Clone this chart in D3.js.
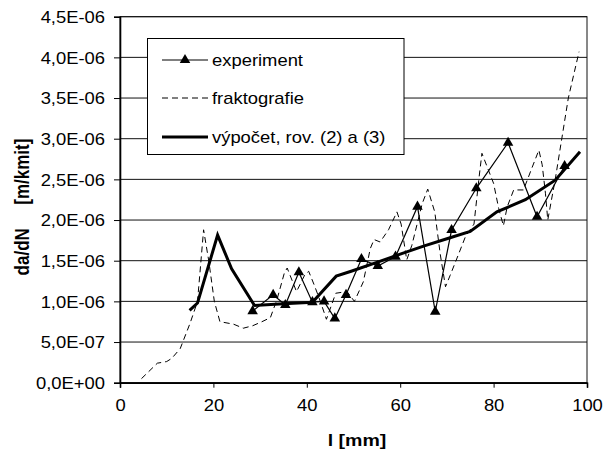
<!DOCTYPE html>
<html>
<head>
<meta charset="utf-8">
<script src="https://cdn.jsdelivr.net/npm/d3@7"></script>
<style>
  html, body { margin: 0; padding: 0; background: #fff; }
  svg { display: block; font-family: "Liberation Sans", Arial, sans-serif; }
</style>
</head>
<body>
<svg id="chart" width="604" height="459"></svg>
<script>
// Crack growth rate da/dN versus crack length l

// measured points (l in mm, da/dN in m/kmit)
const experimentL = [28.4, 32.8, 35.4, 38.3, 41.2, 43.7, 46.0, 48.4, 51.7, 55.2, 59.0, 63.7, 67.5, 71.0, 76.3, 83.1, 89.3, 95.2];
const experimentRate = [0.88e-6, 1.08e-6, 0.955e-6, 1.357e-6, 0.99e-6, 1.0e-6, 0.79e-6, 1.08e-6, 1.52e-6, 1.435e-6, 1.55e-6, 2.164e-6, 0.873e-6, 1.877e-6, 2.39e-6, 2.95e-6, 2.04e-6, 2.664e-6];

// fractographic evaluation
const fractoL = [4.6, 8.0, 10.0, 11.1, 12.9, 15.0, 16.6, 17.9, 19.0, 20.2, 21.4, 24.3, 26.4, 28.4, 30.4, 32.2, 33.6, 35.2, 35.8, 37.8, 39.6, 40.4, 41.6, 42.9, 44.2, 46.2, 48.6, 50.2, 52.1, 53.6, 54.4, 55.7, 57.5, 59.3, 60.2, 61.4, 62.5, 64.7, 65.9, 67.4, 68.6, 69.7, 70.7, 72.5, 74.0, 75.8, 76.9, 77.5, 80.0, 81.1, 82.1, 82.9, 84.3, 86.4, 88.2, 89.7, 90.4, 91.1, 91.6, 93.2, 94.6, 96.0, 98.3];
const fractoRate = [0.05e-6, 0.24e-6, 0.26e-6, 0.30e-6, 0.42e-6, 0.73e-6, 1.0e-6, 1.88e-6, 1.5e-6, 1.0e-6, 0.75e-6, 0.72e-6, 0.67e-6, 0.70e-6, 0.75e-6, 0.80e-6, 1.02e-6, 1.35e-6, 1.41e-6, 1.12e-6, 1.33e-6, 1.37e-6, 1.20e-6, 1.0e-6, 0.78e-6, 1.10e-6, 1.12e-6, 1.0e-6, 1.24e-6, 1.65e-6, 1.76e-6, 1.73e-6, 1.88e-6, 2.10e-6, 1.95e-6, 1.51e-6, 1.69e-6, 2.20e-6, 2.38e-6, 2.10e-6, 1.57e-6, 1.18e-6, 1.32e-6, 1.58e-6, 1.80e-6, 1.95e-6, 2.53e-6, 2.82e-6, 2.45e-6, 2.14e-6, 1.93e-6, 2.16e-6, 2.37e-6, 2.37e-6, 2.64e-6, 2.86e-6, 2.68e-6, 2.33e-6, 2.0e-6, 2.5e-6, 3.0e-6, 3.5e-6, 4.07e-6];

// calculation, eq. (2) and (3)
const calcL = [14.9, 16.6, 20.9, 23.9, 28.8, 35.0, 41.2, 46.3, 49.5, 55.0, 60.0, 65.0, 70.0, 75.0, 80.7, 86.8, 93.2, 98.5];
const calcRate = [0.89e-6, 0.98e-6, 1.815e-6, 1.40e-6, 0.95e-6, 0.97e-6, 0.99e-6, 1.31e-6, 1.37e-6, 1.48e-6, 1.58e-6, 1.68e-6, 1.77e-6, 1.86e-6, 2.10e-6, 2.25e-6, 2.49e-6, 2.84e-6];

const xTicks = [0, 20, 40, 60, 80, 100];
const yTicks = [0, 0.5e-6, 1.0e-6, 1.5e-6, 2.0e-6, 2.5e-6, 3.0e-6, 3.5e-6, 4.0e-6, 4.5e-6];

const legendLabels = ["experiment", "fraktografie", "výpočet, rov. (2) a (3)"];
const xTitle = "l [mm]";
const yTitle = "da/dN     [m/kmit]";

// layout
const plot = { left: 120, top: 16.7, right: 587, bottom: 382.7 };
const SX = 1.15;          // horizontal text widening
const FS = 16;            // base font size

const svg = d3.select("#chart");

const x = d3.scaleLinear().domain([0, 100]).range([plot.left, plot.right]);
const y = d3.scaleLinear().domain([0, 4.5e-6]).range([plot.bottom, plot.top]);

function fmtE(v) {
  if (v === 0) return "0,0E+00";
  const e = Math.floor(Math.log10(v) + 1e-9);
  const m = v / Math.pow(10, e);
  return m.toFixed(1).replace(".", ",") + "E" + (e < 0 ? "-" : "+") + String(Math.abs(e)).padStart(2, "0");
}

// horizontal gridlines
svg.append("g")
  .selectAll("line")
  .data(yTicks)
  .join("line")
  .attr("x1", plot.left).attr("x2", plot.right)
  .attr("y1", d => y(d)).attr("y2", d => y(d))
  .attr("stroke", "#111").attr("stroke-width", 1);

// plot frame
svg.append("rect")
  .attr("x", plot.left).attr("y", plot.top)
  .attr("width", plot.right - plot.left).attr("height", plot.bottom - plot.top)
  .attr("fill", "none").attr("stroke", "#111").attr("stroke-width", 1);

// axes
const yAxis = svg.append("g")
  .attr("transform", `translate(${plot.left},0)`)
  .call(d3.axisLeft(y).tickValues(yTicks).tickFormat(fmtE).tickSize(6).tickPadding(7));
const xAxis = svg.append("g")
  .attr("transform", `translate(0,${plot.bottom})`)
  .call(d3.axisBottom(x).tickValues(xTicks).tickFormat(d3.format("d")).tickSize(5).tickPadding(12));

[yAxis, xAxis].forEach(g => {
  g.select(".domain").attr("stroke", "#000").attr("stroke-width", 1.6);
  g.selectAll(".tick line").attr("stroke", "#000").attr("stroke-width", 1);
  g.selectAll("text")
    .attr("font-family", "'Liberation Sans', Arial, sans-serif")
    .attr("font-size", FS)
    .attr("fill", "#000")
    .attr("transform", `scale(${SX},1)`);
});
yAxis.selectAll("text").attr("dy", "0.36em");

// series
const line = d3.line().x(d => x(d[0])).y(d => y(d[1]));

const fracto = d3.zip(fractoL, fractoRate);
const calc = d3.zip(calcL, calcRate);
const exper = d3.zip(experimentL, experimentRate);

svg.append("path")
  .datum(fracto)
  .attr("d", line)
  .attr("fill", "none").attr("stroke", "#000")
  .attr("stroke-width", 1).attr("stroke-dasharray", "6,4");

svg.append("path")
  .datum(exper)
  .attr("d", line)
  .attr("fill", "none").attr("stroke", "#000").attr("stroke-width", 1.2);

svg.append("path")
  .datum(calc)
  .attr("d", line)
  .attr("fill", "none").attr("stroke", "#000")
  .attr("stroke-width", 3).attr("stroke-linejoin", "miter");

const tri = d3.symbol().type(d3.symbolTriangle).size(48);
svg.append("g")
  .selectAll("path")
  .data(exper)
  .join("path")
  .attr("d", tri)
  .attr("transform", d => `translate(${x(d[0])},${y(d[1])})`)
  .attr("fill", "#000");

// legend
const lg = svg.append("g");
lg.append("rect")
  .attr("x", 147.5).attr("y", 38.5).attr("width", 256.5).attr("height", 116)
  .attr("fill", "#fff").attr("stroke", "#000").attr("stroke-width", 1);
const rows = [60, 98, 137];
const sampleX1 = 162, sampleX2 = 208;
lg.append("line").attr("x1", sampleX1).attr("x2", sampleX2).attr("y1", rows[0]).attr("y2", rows[0])
  .attr("stroke", "#000").attr("stroke-width", 1.2);
lg.append("path").attr("d", tri).attr("transform", `translate(${(sampleX1 + sampleX2) / 2},${rows[0]})`).attr("fill", "#000");
lg.append("line").attr("x1", sampleX1).attr("x2", sampleX2).attr("y1", rows[1]).attr("y2", rows[1])
  .attr("stroke", "#000").attr("stroke-width", 1).attr("stroke-dasharray", "6,4");
lg.append("line").attr("x1", sampleX1).attr("x2", sampleX2).attr("y1", rows[2]).attr("y2", rows[2])
  .attr("stroke", "#000").attr("stroke-width", 3);
legendLabels.forEach((t, i) => {
  lg.append("text")
    .attr("transform", `translate(212,${rows[i]}) scale(${SX},1)`)
    .attr("dy", "0.36em")
    .attr("font-size", FS)
    .attr("fill", "#000")
    .text(t);
});

// axis titles
svg.append("text")
  .attr("transform", `translate(357,440) scale(${SX},1)`)
  .attr("text-anchor", "middle")
  .attr("dy", "0.36em")
  .attr("font-size", 17)
  .attr("font-weight", "bold")
  .text(xTitle);

svg.append("text")
  .attr("transform", `translate(22,207) scale(${SX},1) rotate(-90)`)
  .attr("text-anchor", "middle")
  .attr("dy", "0.36em")
  .attr("font-size", 17)
  .attr("font-weight", "bold")
  .style("white-space", "pre")
  .text(yTitle);
</script>
</body>
</html>
